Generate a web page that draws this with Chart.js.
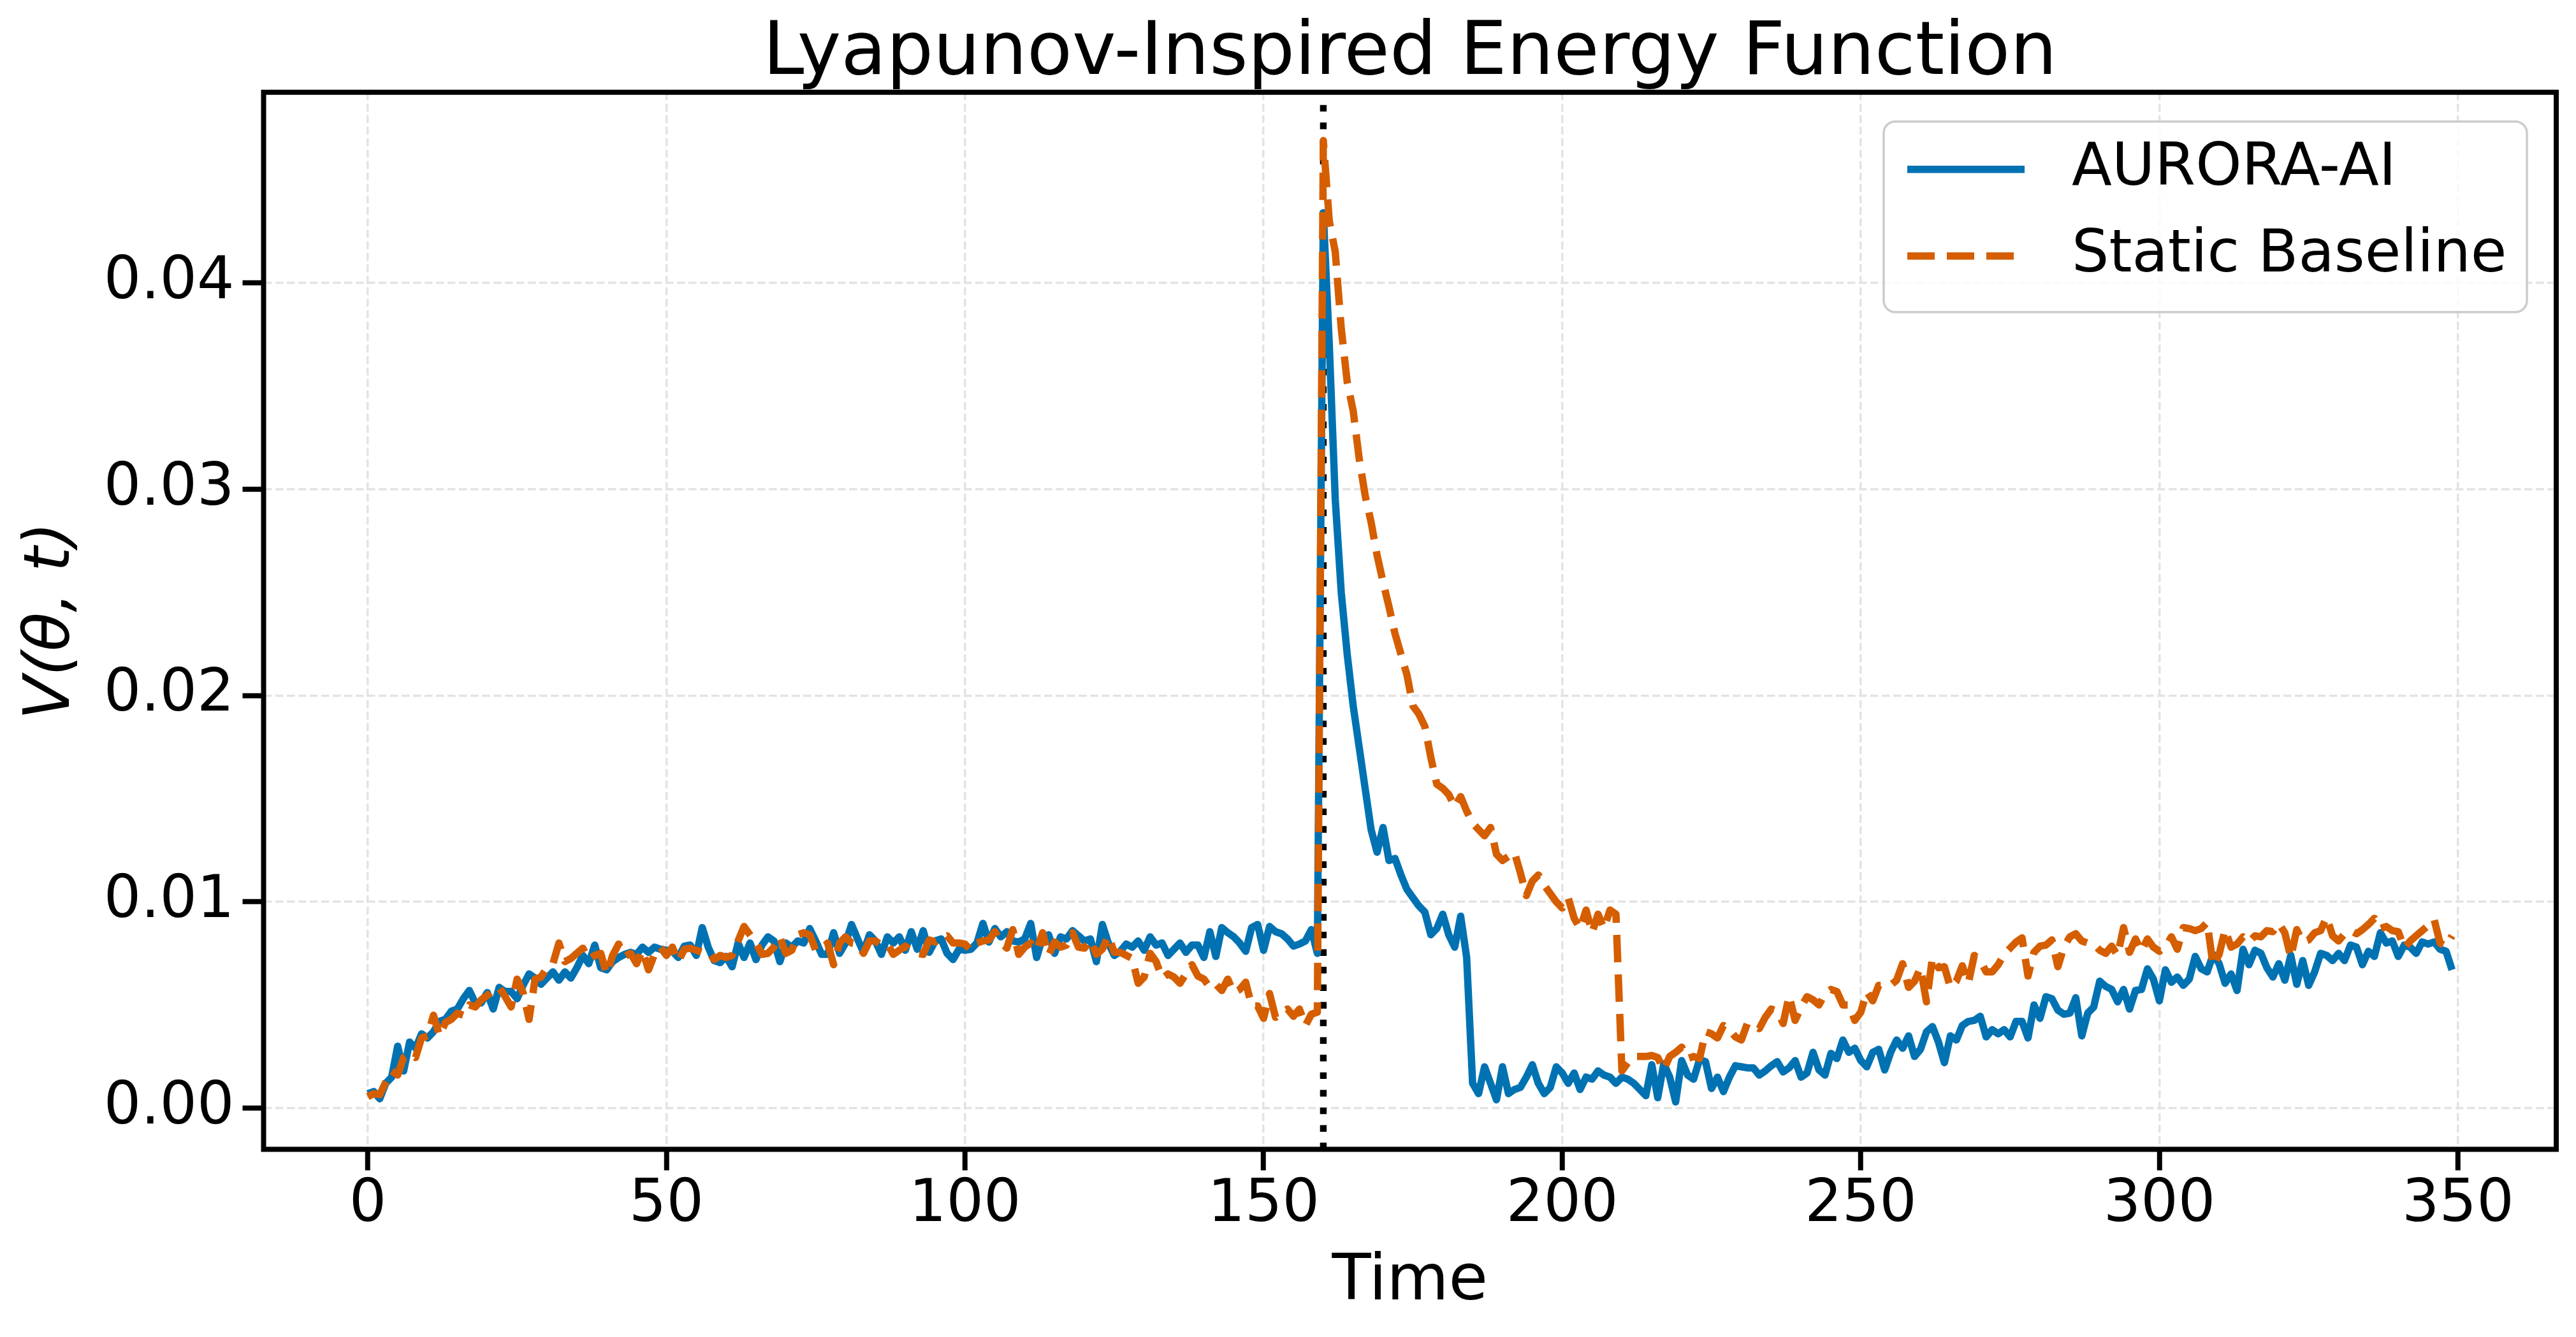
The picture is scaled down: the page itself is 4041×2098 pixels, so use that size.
<!DOCTYPE html>
<html>
<head>
<meta charset="utf-8">
<title>Lyapunov-Inspired Energy Function</title>
<script src="https://cdn.jsdelivr.net/npm/chart.js@4.4.1/dist/chart.umd.min.js"></script>
<style>
  html, body { margin: 0; padding: 0; background: #fff; overflow: hidden; }
  #chart { display: block; }
</style>
</head>
<body>
<canvas id="chart" width="4041" height="2098"></canvas>
<script>
// V(theta, t), one value per time step 0..349
const auroraAI = [
  0.00070, 0.00080, 0.00045, 0.00120, 0.00150, 0.00300, 0.00180, 0.00320, 0.00290, 0.00360,
  0.00340, 0.00370, 0.00420, 0.00430, 0.00470, 0.00480, 0.00530, 0.00570, 0.00510, 0.00510,
  0.00560, 0.00480, 0.00585, 0.00565, 0.00565, 0.00530, 0.00595, 0.00650, 0.00630, 0.00600,
  0.00630, 0.00660, 0.00620, 0.00660, 0.00630, 0.00680, 0.00740, 0.00700, 0.00790, 0.00680,
  0.00670, 0.00710, 0.00730, 0.00745, 0.00755, 0.00745, 0.00780, 0.00755, 0.00780, 0.00770,
  0.00765, 0.00760, 0.00730, 0.00785, 0.00790, 0.00740, 0.00875, 0.00780, 0.00715, 0.00705,
  0.00735, 0.00685, 0.00800, 0.00730, 0.00800, 0.00720, 0.00790, 0.00830, 0.00810, 0.00710,
  0.00800, 0.00780, 0.00810, 0.00800, 0.00870, 0.00810, 0.00745, 0.00745, 0.00850, 0.00750,
  0.00800, 0.00890, 0.00820, 0.00755, 0.00840, 0.00810, 0.00745, 0.00830, 0.00800, 0.00830,
  0.00765, 0.00855, 0.00770, 0.00860, 0.00755, 0.00810, 0.00820, 0.00750, 0.00720, 0.00770,
  0.00765, 0.00770, 0.00800, 0.00895, 0.00805, 0.00870, 0.00830, 0.00855, 0.00810, 0.00805,
  0.00820, 0.00895, 0.00730, 0.00830, 0.00840, 0.00750, 0.00830, 0.00820, 0.00860, 0.00835,
  0.00810, 0.00820, 0.00710, 0.00890, 0.00800, 0.00740, 0.00760, 0.00795, 0.00780, 0.00810,
  0.00765, 0.00830, 0.00790, 0.00800, 0.00740, 0.00770, 0.00800, 0.00755, 0.00790, 0.00790,
  0.00730, 0.00855, 0.00735, 0.00875, 0.00850, 0.00830, 0.00800, 0.00760, 0.00875, 0.00890,
  0.00765, 0.00880, 0.00855, 0.00845, 0.00820, 0.00785, 0.00795, 0.00810, 0.00865, 0.00750,
  0.04340, 0.03700, 0.02950, 0.02500, 0.02200, 0.01950, 0.01750, 0.01550, 0.01350, 0.01240,
  0.01360, 0.01200, 0.01210, 0.01130, 0.01060, 0.01020, 0.00980, 0.00950, 0.00840, 0.00870,
  0.00940, 0.00840, 0.00780, 0.00930, 0.00730, 0.00120, 0.00070, 0.00200, 0.00120, 0.00040,
  0.00200, 0.00070, 0.00090, 0.00100, 0.00150, 0.00210, 0.00120, 0.00070, 0.00100, 0.00200,
  0.00170, 0.00120, 0.00170, 0.00090, 0.00150, 0.00140, 0.00180, 0.00160, 0.00150, 0.00120,
  0.00150, 0.00140, 0.00120, 0.00090, 0.00060, 0.00210, 0.00050, 0.00215, 0.00150, 0.00030,
  0.00230, 0.00160, 0.00140, 0.00235, 0.00225, 0.00095, 0.00150, 0.00080, 0.00150, 0.00205,
  0.00200, 0.00195, 0.00195, 0.00160, 0.00180, 0.00205, 0.00225, 0.00175, 0.00195, 0.00230,
  0.00150, 0.00170, 0.00270, 0.00185, 0.00160, 0.00265, 0.00240, 0.00330, 0.00270, 0.00290,
  0.00230, 0.00200, 0.00270, 0.00285, 0.00185, 0.00270, 0.00330, 0.00290, 0.00350, 0.00250,
  0.00285, 0.00370, 0.00395, 0.00320, 0.00220, 0.00350, 0.00330, 0.00400, 0.00420, 0.00425,
  0.00445, 0.00345, 0.00380, 0.00360, 0.00380, 0.00345, 0.00420, 0.00420, 0.00340, 0.00500,
  0.00435, 0.00540, 0.00530, 0.00475, 0.00455, 0.00460, 0.00535, 0.00350, 0.00460, 0.00490,
  0.00615, 0.00590, 0.00575, 0.00515, 0.00575, 0.00480, 0.00570, 0.00575, 0.00675, 0.00625,
  0.00520, 0.00670, 0.00610, 0.00635, 0.00595, 0.00625, 0.00735, 0.00675, 0.00660, 0.00745,
  0.00700, 0.00605, 0.00650, 0.00570, 0.00770, 0.00695, 0.00765, 0.00750, 0.00680, 0.00635,
  0.00700, 0.00620, 0.00740, 0.00600, 0.00715, 0.00595, 0.00660, 0.00750, 0.00740, 0.00715,
  0.00750, 0.00715, 0.00790, 0.00780, 0.00695, 0.00760, 0.00735, 0.00850, 0.00800, 0.00810,
  0.00735, 0.00790, 0.00780, 0.00750, 0.00805, 0.00795, 0.00805, 0.00770, 0.00760, 0.00670
];

const staticBaseline = [
  0.00055, 0.00070, 0.00065, 0.00125, 0.00180, 0.00160, 0.00245, 0.00265, 0.00245, 0.00340,
  0.00350, 0.00450, 0.00350, 0.00415, 0.00430, 0.00460, 0.00450, 0.00500, 0.00490, 0.00525,
  0.00545, 0.00575, 0.00585, 0.00540, 0.00490, 0.00625, 0.00560, 0.00430, 0.00625, 0.00635,
  0.00680, 0.00700, 0.00800, 0.00710, 0.00725, 0.00750, 0.00775, 0.00720, 0.00740, 0.00750,
  0.00650, 0.00740, 0.00795, 0.00735, 0.00750, 0.00700, 0.00765, 0.00670, 0.00745, 0.00780,
  0.00740, 0.00780, 0.00710, 0.00770, 0.00775, 0.00765, 0.00755, 0.00760, 0.00720, 0.00740,
  0.00730, 0.00740, 0.00810, 0.00880, 0.00840, 0.00800, 0.00745, 0.00750, 0.00780, 0.00830,
  0.00750, 0.00765, 0.00840, 0.00850, 0.00840, 0.00765, 0.00770, 0.00800, 0.00695, 0.00800,
  0.00830, 0.00800, 0.00795, 0.00750, 0.00810, 0.00810, 0.00790, 0.00795, 0.00745, 0.00765,
  0.00785, 0.00760, 0.00750, 0.00745, 0.00815, 0.00805, 0.00825, 0.00835, 0.00800, 0.00800,
  0.00795, 0.00765, 0.00800, 0.00810, 0.00815, 0.00855, 0.00805, 0.00775, 0.00865, 0.00745,
  0.00780, 0.00800, 0.00765, 0.00850, 0.00740, 0.00805, 0.00780, 0.00790, 0.00850, 0.00780,
  0.00775, 0.00815, 0.00745, 0.00770, 0.00835, 0.00755, 0.00755, 0.00740, 0.00725, 0.00605,
  0.00635, 0.00750, 0.00710, 0.00630, 0.00650, 0.00635, 0.00605, 0.00650, 0.00695, 0.00640,
  0.00625, 0.00585, 0.00600, 0.00570, 0.00625, 0.00560, 0.00575, 0.00610, 0.00495, 0.00495,
  0.00435, 0.00555, 0.00440, 0.00465, 0.00480, 0.00445, 0.00480, 0.00400, 0.00455, 0.00465,
  0.04690, 0.04300, 0.04150, 0.03780, 0.03520, 0.03380, 0.03150, 0.02970, 0.02840, 0.02680,
  0.02550, 0.02430, 0.02300, 0.02200, 0.02100, 0.01950, 0.01910, 0.01850, 0.01700, 0.01570,
  0.01550, 0.01520, 0.01460, 0.01510, 0.01440, 0.01380, 0.01350, 0.01320, 0.01360, 0.01230,
  0.01200, 0.01220, 0.01240, 0.01140, 0.01030, 0.01100, 0.01130, 0.01080, 0.01040, 0.01000,
  0.00970, 0.01020, 0.00920, 0.00870, 0.00960, 0.00850, 0.00940, 0.00870, 0.00960, 0.00940,
  0.00180, 0.00220, 0.00250, 0.00250, 0.00250, 0.00255, 0.00245, 0.00185, 0.00250, 0.00270,
  0.00295, 0.00240, 0.00250, 0.00240, 0.00370, 0.00360, 0.00340, 0.00400, 0.00380, 0.00345,
  0.00330, 0.00410, 0.00400, 0.00385, 0.00440, 0.00480, 0.00470, 0.00410, 0.00545, 0.00425,
  0.00490, 0.00540, 0.00525, 0.00500, 0.00555, 0.00575, 0.00565, 0.00500, 0.00500, 0.00425,
  0.00465, 0.00565, 0.00520, 0.00595, 0.00595, 0.00595, 0.00620, 0.00700, 0.00585, 0.00615,
  0.00680, 0.00515, 0.00730, 0.00680, 0.00685, 0.00585, 0.00615, 0.00690, 0.00605, 0.00740,
  0.00715, 0.00660, 0.00660, 0.00695, 0.00745, 0.00775, 0.00805, 0.00825, 0.00640, 0.00755,
  0.00785, 0.00790, 0.00815, 0.00685, 0.00780, 0.00830, 0.00845, 0.00810, 0.00800, 0.00795,
  0.00765, 0.00750, 0.00785, 0.00740, 0.00875, 0.00755, 0.00820, 0.00760, 0.00820, 0.00780,
  0.00760, 0.00780, 0.00830, 0.00770, 0.00875, 0.00870, 0.00860, 0.00870, 0.00900, 0.00690,
  0.00745, 0.00865, 0.00780, 0.00795, 0.00830, 0.00805, 0.00835, 0.00830, 0.00860, 0.00855,
  0.00895, 0.00850, 0.00730, 0.00865, 0.00805, 0.00815, 0.00850, 0.00860, 0.00925, 0.00835,
  0.00810, 0.00845, 0.00860, 0.00845, 0.00865, 0.00890, 0.00920, 0.00870, 0.00880, 0.00860,
  0.00855, 0.00775, 0.00810, 0.00835, 0.00860, 0.00885, 0.00915, 0.00800, 0.00785, 0.00835
];

const seriesNames = ["AURORA-AI", "Static Baseline"];
const shockTime = 160;

const xTicks = [0, 50, 100, 150, 200, 250, 300, 350];
const xTickLabels = ["0", "50", "100", "150", "200", "250", "300", "350"];
const yTicks = [0, 0.01, 0.02, 0.03, 0.04];
const yTickLabels = ["0.00", "0.01", "0.02", "0.03", "0.04"];

const BLUE = "#0072B2";
const ORANGE = "#D55E00";
const GRID = "#e3e3e3";
const FONT = "DejaVu Sans";

Chart.defaults.font.family = FONT;
Chart.defaults.color = "#000";

// dotted vertical marker at the shock time, under the curves
const shockLine = {
    id: "shockLine",
    beforeDatasetsDraw(chart) {
        const { ctx, chartArea, scales } = chart;
        const x = scales.x.getPixelForValue(shockTime);
        ctx.save();
        ctx.strokeStyle = "#000";
        ctx.lineWidth = 10.4;
        ctx.lineCap = "butt";
        ctx.setLineDash([10.4, 17.2]);
        ctx.beginPath();
        ctx.moveTo(x, chartArea.bottom);
        ctx.lineTo(x, chartArea.top);
        ctx.stroke();
        ctx.restore();
    }
};

// full box around the plot area
const frame = {
    id: "frame",
    afterDatasetsDraw(chart) {
        const { ctx, chartArea: a } = chart;
        ctx.save();
        ctx.strokeStyle = "#000";
        ctx.lineWidth = 8;
        ctx.strokeRect(a.left, a.top, a.right - a.left, a.bottom - a.top);
        ctx.restore();
    }
};

// upper-right legend with line handles
const legendBox = {
    id: "legendBox",
    afterDraw(chart) {
        const { ctx, chartArea: a } = chart;
        const w = 1009, h = 299;
        const x0 = a.right - 46 - w;
        const y0 = a.top + 46;

        ctx.save();
        ctx.beginPath();
        ctx.roundRect(x0, y0, w, h, 18);
        ctx.fillStyle = "rgba(255,255,255,0.8)";
        ctx.fill();
        ctx.lineWidth = 3.5;
        ctx.strokeStyle = "#cccccc";
        ctx.stroke();

        const rowY = [y0 + 75, y0 + 211];
        chart.data.datasets.forEach((ds, i) => {
            const y = rowY[i];
            ctx.beginPath();
            ctx.strokeStyle = ds.borderColor;
            ctx.lineWidth = ds.borderWidth;
            ctx.lineCap = "butt";
            ctx.setLineDash(ds.borderDash || []);
            ctx.moveTo(x0 + 37, y);
            ctx.lineTo(x0 + 221, y);
            ctx.stroke();
            ctx.setLineDash([]);
            ctx.fillStyle = "#000";
            ctx.font = "92px '" + FONT + "'";
            ctx.textAlign = "left";
            ctx.textBaseline = "middle";
            ctx.fillText(ds.label, x0 + 295, y);
        });
        ctx.restore();
    }
};

const tickFont = { family: FONT, size: 92 };

new Chart(document.getElementById("chart"), {
    type: "line",
    data: {
        datasets: [
            {
                label: seriesNames[0],
                data: auroraAI.map((v, i) => ({ x: i, y: v })),
                borderColor: BLUE,
                borderWidth: 11.5,
                borderJoinStyle: "round",
                borderCapStyle: "butt",
                pointRadius: 0,
                tension: 0,
                fill: false,
                order: 2
            },
            {
                label: seriesNames[1],
                data: staticBaseline.map((v, i) => ({ x: i, y: v })),
                borderColor: ORANGE,
                borderWidth: 11.5,
                borderDash: [43, 19],
                borderJoinStyle: "round",
                borderCapStyle: "butt",
                pointRadius: 0,
                tension: 0,
                fill: false,
                order: 1
            }
        ]
    },
    options: {
        responsive: false,
        animation: false,
        devicePixelRatio: 1,
        layout: { padding: { left: 0, right: 31, top: 0, bottom: 0 } },
        plugins: {
            legend: { display: false },
            tooltip: { enabled: false },
            title: {
                display: true,
                fullSize: false,
                text: "Lyapunov-Inspired Energy Function",
                font: { family: FONT, size: 116, weight: "normal", lineHeight: 1.024 },
                color: "#000",
                padding: { top: 26, bottom: 0 }
            }
        },
        scales: {
            x: {
                type: "linear",
                min: -17.45,
                max: 366.45,
                afterBuildTicks: s => { s.ticks = xTicks.map(v => ({ value: v })); },
                afterFit: s => { s.height = 294.5; },
                grid: {
                    color: GRID,
                    lineWidth: 3.5,
                    tickColor: "#000",
                    tickWidth: 8,
                    tickLength: 33
                },
                border: { display: false, dash: [12.5, 5.5] },
                ticks: {
                    font: tickFont,
                    color: "#000",
                    padding: 0,
                    maxRotation: 0,
                    autoSkip: false,
                    callback: (v, i) => xTickLabels[i]
                },
                title: {
                    display: true,
                    text: "Time",
                    font: { family: FONT, size: 100 },
                    color: "#000",
                    padding: { top: 0, bottom: 25 }
                }
            },
            y: {
                type: "linear",
                min: -0.0020,
                max: 0.04924,
                afterBuildTicks: s => { s.ticks = yTicks.map(v => ({ value: v })); },
                afterFit: s => { s.width = 413.5; },
                grid: {
                    color: GRID,
                    lineWidth: 3.5,
                    tickColor: "#000",
                    tickWidth: 8,
                    tickLength: 33
                },
                border: { display: false, dash: [12.5, 5.5] },
                ticks: {
                    font: tickFont,
                    color: "#000",
                    padding: 13,
                    autoSkip: false,
                    callback: (v, i) => yTickLabels[i]
                },
                title: {
                    display: true,
                    text: "V(θ, t)",
                    font: { family: FONT, size: 100, style: "italic" },
                    color: "#000",
                    padding: { top: 22, bottom: 0 }
                }
            }
        }
    },
    plugins: [shockLine, frame, legendBox]
});
</script>
</body>
</html>
